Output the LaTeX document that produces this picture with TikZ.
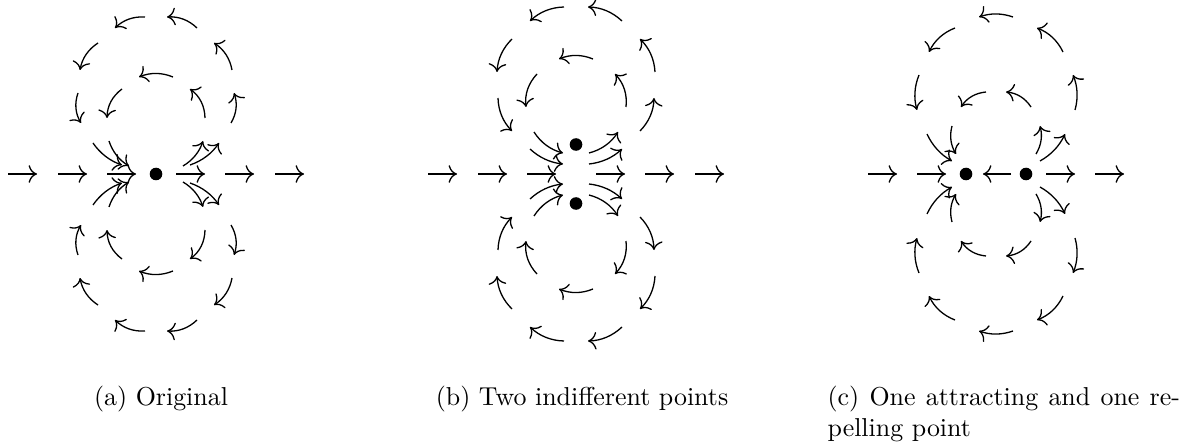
\documentclass[tikz,border=0pt]{standalone}
\usetikzlibrary{arrows.meta}
\newcommand{\flowdraw}[5]{%
  \pgfmathsetmacro{\arclen}{veclen((#3)-(#1),(#4)-(#2))}
  \pgfmathsetmacro{\ox}{4/3*(#5)*((#4)-(#2))/\arclen}
  \pgfmathsetmacro{\oy}{-4/3*(#5)*((#3)-(#1))/\arclen}
  \draw[->] (#1,#2) .. controls ({#1+((#3)-(#1))/3+\ox},{#2+((#4)-(#2))/3+\oy})
    and ({#1+2*((#3)-(#1))/3+\ox},{#2+2*((#4)-(#2))/3+\oy}) .. (#3,#4);}
\newcommand{\flowarc}[6]{%
  \ifnum#1<0 \flowdraw{#4}{#5}{#2}{#3}{-(#6)}\else\flowdraw{#2}{#3}{#4}{#5}{#6}\fi}
\begin{document}
\begin{tikzpicture}[x=0.386pt,y=0.386pt,line width=0.5pt,
  >={Computer Modern Rightarrow[scale=1.2]}]
  \useasboundingbox (0,0) rectangle (1191,445);

  \begin{scope}[shift={(156,271)}]
    \foreach \sx in {1,-1}{
      \begin{scope}[xscale=\sx]
        \foreach \ax/\bx in {-148/-119,-98/-69,-49/-20}
          {\flowarc{\sx}{\ax}{0}{\bx}{0}{0}}
      \end{scope}
      \foreach \sy in {1,-1}{
        \begin{scope}[xscale=\sx,yscale=\sy]
          \foreach \ax/\ay/\bx/\by/\hh in {-11/157/-41/146/3.5,
              -58/131/-76/104/3.5,-78/81/-75/51/3.5,-63/31/-34/9/3,
              -34/85/-49/56/4,-47/33/-27/8/3}
            {\flowarc{\sx}{\ax}{\ay}{\bx}{\by}{\hh}}
        \end{scope}}}
    \foreach \sy in {1,-1}{
      \begin{scope}[yscale=\sy]
        \flowarc{1}{17}{97}{-17}{97}{3.5}
      \end{scope}}
    \fill (0,0) circle (6.3);
  \end{scope}

  \begin{scope}[shift={(576,271)}]
    \foreach \sx in {1,-1}{
      \begin{scope}[xscale=\sx]
        \foreach \ax/\bx in {-148/-119,-98/-69,-49/-20}
          {\flowarc{\sx}{\ax}{0}{\bx}{0}{0}}
      \end{scope}
      \foreach \sy in {1,-1}{
        \begin{scope}[xscale=\sx,yscale=\sy]
          \foreach \ax/\ay/\bx/\by/\hh in {-12/167/-46/153/3.5,
              -64/135/-79/102/3.5,-78/76/-64/43/3.5,-42/42/-13/21/3.5,
              -39/100/-50/67/4,-46/25/-13/10/3}
            {\flowarc{\sx}{\ax}{\ay}{\bx}{\by}{\hh}}
        \end{scope}}}
    \foreach \sy in {1,-1}{
      \begin{scope}[yscale=\sy]
        \flowarc{1}{17}{115}{-17}{115}{3.5}
        \fill (0,29.5) circle (6.3);
      \end{scope}}
  \end{scope}

  \begin{scope}[shift={(996,271)}]
    \foreach \sx in {1,-1}{
      \begin{scope}[xscale=\sx]
        \foreach \ax/\bx in {-128/-99,-79/-50}
          {\flowarc{\sx}{\ax}{0}{\bx}{0}{0}}
        \fill (-30,0) circle (6.3);
      \end{scope}
      \foreach \sy in {1,-1}{
        \begin{scope}[xscale=\sx,yscale=\sy]
          \foreach \ax/\ay/\bx/\by/\hh in {-41/146/-67/122/3.5,
              -77/99/-79/64/3,-69/40/-44/13/3,-10/82/-35/67/3.5,
              -44/48/-40/20/3}
            {\flowarc{\sx}{\ax}{\ay}{\bx}{\by}{\hh}}
        \end{scope}}}
    \foreach \sy in {1,-1}{
      \begin{scope}[yscale=\sy]
        \flowarc{1}{17}{157}{-17}{157}{3}
      \end{scope}}
    \flowarc{1}{15}{0}{-13}{0}{0}
  \end{scope}

  \node[anchor=base] (capa) at (161,40) {(a) Original};
  \node[anchor=base] (capb) at (582,40) {(b) Two indifferent points};
  \node[anchor=base west,inner sep=0pt] (capc) at (827,40)
    {\makebox[136pt][s]{(c) One attracting and one re-}};
  \node[anchor=base west,inner sep=0pt] (capc2) at (827,9) {pelling point};
\end{tikzpicture}
\end{document}
